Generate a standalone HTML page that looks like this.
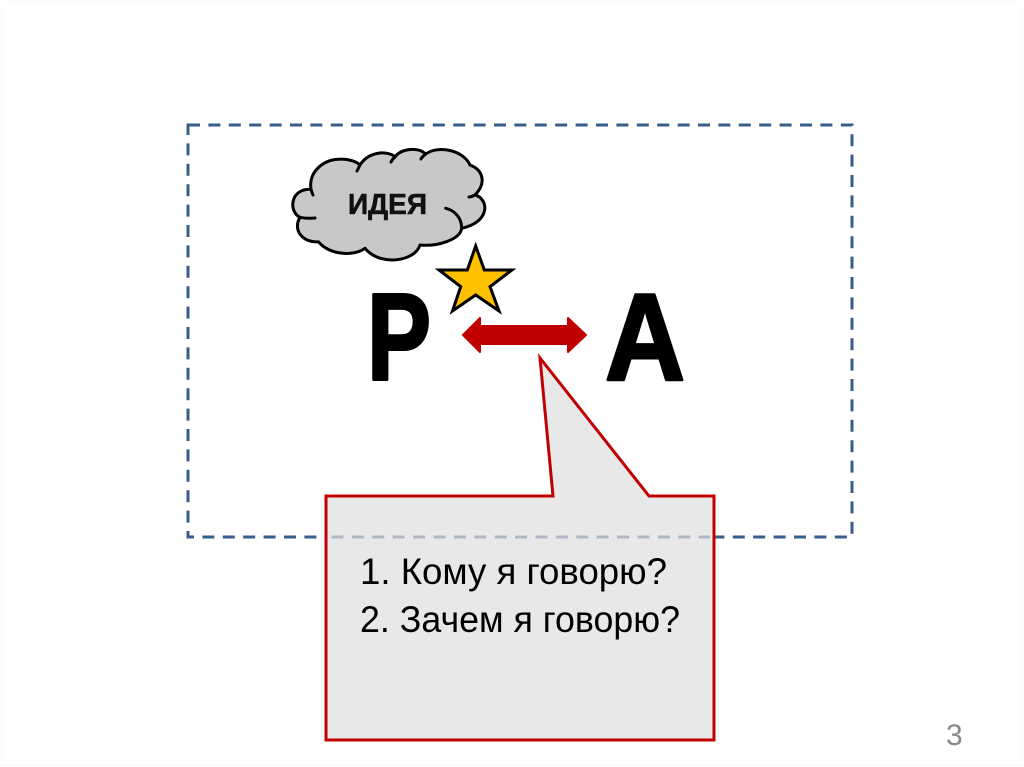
<!DOCTYPE html>
<html>
<head>
<meta charset="utf-8">
<style>
html,body{margin:0;padding:0;background:#fff;width:1024px;height:767px;overflow:hidden}
svg{display:block}
text{font-family:"Liberation Sans","Noto Sans CJK JP",sans-serif}
</style>
</head>
<body>
<svg width="1024" height="767" viewBox="0 0 1024 767" xmlns="http://www.w3.org/2000/svg">
<rect x="1.5" y="1.5" width="1021" height="764" fill="#fff" stroke="#f8f8f8" stroke-width="1"/>
<rect x="188" y="125" width="664" height="412" fill="none" stroke="#385d8a" stroke-width="3" stroke-dasharray="12 8.4"/>
<path d="M311 189.3 C308.3 171.7 323.3 160 338.3 159.3 C348.3 158.3 356.7 161.7 360 165 C368.3 151.7 386.7 150 395 156.7 C401.7 148.3 418.3 146.7 425.7 154 C438.3 145 463.3 150 470 165 C483.3 170 486.7 183.3 475 195 C488.3 198.3 491.7 221.7 461.7 228.3 C460 240 436.7 246.7 420 245 C415 261.7 380 266.7 365 248.3 C353.3 256.7 330 255 318.3 241.7 C305 243.3 291.7 231.7 300 217.3 C288.3 211.7 290 188.3 311 189.3 Z" fill="#c8c8c8" stroke="#000" stroke-width="3" stroke-linejoin="round"/>
<path d="M461.7 228.3 C461.7 216.7 453.3 210 445.7 208.3 M300 217.3 C305 218.5 310 218.5 315 218 M311 189.3 C311.5 191 312 193 313 195 M360 165 C359 167 358 169 357 171 M395 157 C393 158.5 392 160 391 162 M425.7 154 C423 156 422 157 421 159 M475 195 C473 196 471 197 469 197" fill="none" stroke="#000" stroke-width="3" stroke-linecap="round"/>
<text x="348" y="214" font-size="29" font-weight="700" fill="#111" stroke="#111" stroke-width="0.6" textLength="79" lengthAdjust="spacingAndGlyphs">ИДЕЯ</text>
<polygon points="475.7,246 484.3,270 512,270 490,286.7 499,311 475.7,295 452.5,311 460.7,286.7 439,270 467.3,270" fill="#ffc000" stroke="#000" stroke-width="3" stroke-miterlimit="10"/>
<text x="367" y="379.5" font-size="123" font-weight="700" fill="#000" stroke="#000" stroke-width="3" stroke-linejoin="round" textLength="64" lengthAdjust="spacingAndGlyphs">P</text>
<text x="605" y="379.5" font-size="123" font-weight="700" fill="#000" stroke="#000" stroke-width="3" stroke-linejoin="round" textLength="80" lengthAdjust="spacingAndGlyphs">A</text>
<polygon points="463,335 480,318 480,326 568,326 568,318 586,335 568,352 568,344 480,344 480,352" fill="#c00000" stroke="#c00000" stroke-width="2" stroke-linejoin="round"/>
<path d="M326 496 H553 L540 358 L649 496 H714 V740 H326 Z" fill="#e8e8e8" stroke="#c00000" stroke-width="3"/>
<line x1="331" y1="537" x2="710" y2="537" stroke="#b0b8c6" stroke-width="3" stroke-dasharray="12 8.4" stroke-dashoffset="-0.5"/>
<text x="360" y="584" font-size="37" fill="#000" textLength="307" lengthAdjust="spacingAndGlyphs">1. Кому я говорю?</text>
<text x="360" y="632" font-size="37" fill="#000" textLength="320" lengthAdjust="spacingAndGlyphs">2. Зачем я говорю?</text>
<text x="946" y="745" font-size="30" fill="#898989">3</text>
</svg>
</body>
</html>
